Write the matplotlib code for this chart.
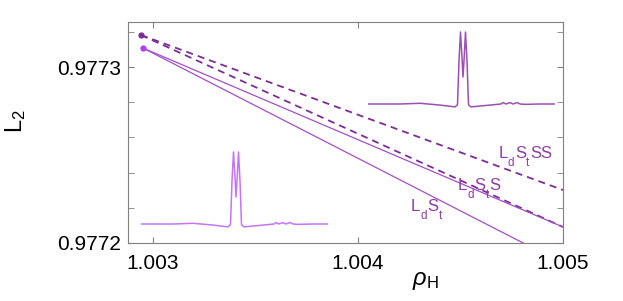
import matplotlib
matplotlib.use("Agg")
import matplotlib.pyplot as plt
from matplotlib.ticker import MultipleLocator, FormatStrFormatter
from matplotlib.transforms import offset_copy

plt.rcParams['font.family'] = ['Liberation Sans', 'DejaVu Sans']
plt.rcParams['mathtext.fontset'] = 'custom'
plt.rcParams['mathtext.rm'] = 'Liberation Sans'
plt.rcParams['mathtext.it'] = 'Liberation Sans:italic'

# lines: end points (rho_H, L2)
rho_dash = [1.002941, 1.005]
L2_SS = [0.9773182, 0.9772301]
L2_S = [0.9773182, 0.9772091]
rho_solid = [1.002951, 1.005]
L2_S_solid = [0.9773108, 0.9772091]
L2_t = [0.9773108, 0.9771884]

# start markers
dot_rho = [1.002941, 1.002951]
dot_L2 = [0.9773182, 0.9773108]

# curve labels as (text, subscript?) pieces
labels = [[('L', 0), ('d', 1), ('S', 0), ('t', 1), ('SS', 0)],
          [('L', 0), ('d', 1), ('S', 0), ('t', 1), ('S', 0)],
          [('L', 0), ('d', 1), ('S', 0), ('t', 1)]]
label_rho = [1.004684, 1.004488, 1.004259]
label_L2 = [0.9772483, 0.9772301, 0.9772182]

# inset spectrum (normalised)
spec_u = [0, 32, 52, 72, 87, 89.5, 91, 92.5, 94.2, 95, 96, 97.5, 99, 100.5, 103,
          122, 133, 135, 138, 142, 145, 149, 152, 157, 172, 187]
spec_v = [0, 0, 0.01, -0.015, -0.04, -0.01, 0.6, 1.0, 0.6, 0.375, 0.6, 1.0, 0.6, -0.01,
          -0.04, -0.015, 0, 0.02, 0, 0.02, 0, 0.02, 0, -0.005, 0, 0]

dark = '#7b2d96'
light = '#a24fc4'
gray = '#808080'

fig = plt.figure(figsize=(6.23, 3.01), dpi=100)
W, H = 623, 301
ax = fig.add_axes([128 / W, 1 - 243 / H, 435 / W, 221 / H])

ax.plot(rho_dash, L2_SS, color=dark, lw=1.3, dashes=(3.9, 2.8))
ax.plot(rho_dash, L2_S, color=dark, lw=1.3, dashes=(3.9, 2.8))
ax.plot(rho_solid, L2_S_solid, color=light, lw=0.9)
ax.plot(rho_solid, L2_t, color=light, lw=0.9)
ax.plot(dot_rho[0], dot_L2[0], 'o', color=dark, ms=4.5, mec='none')
ax.plot(dot_rho[1], dot_L2[1], 'o', color='#b040f0', ms=4.5, mec='none')

ax.set_xlim(1.002878, 1.005)
ax.set_ylim(0.9772, 0.9773256)
ax.xaxis.set_major_locator(MultipleLocator(0.001))
ax.xaxis.set_major_formatter(FormatStrFormatter('%.3f'))
ax.yaxis.set_major_locator(MultipleLocator(0.0001))
ax.yaxis.set_minor_locator(MultipleLocator(0.00002))
ax.yaxis.set_major_formatter(FormatStrFormatter('%.4f'))
ax.tick_params(which='both', direction='in', top=True, right=True, length=4,
               color=gray, labelsize=15)
ax.tick_params(axis='x', pad=8)
ax.tick_params(axis='y', pad=5)
for s in ax.spines.values():
    s.set_color(gray)
ax.set_xlabel(r'$\rho_\mathregular{H}$', fontsize=17)
ax.xaxis.set_label_coords(0.683, -0.12)
ax.set_ylabel(r'L$_\mathregular{2}$', fontsize=17)
ax.yaxis.set_label_coords(-0.23, 0.55)

# curve labels, subscripts dropped well below baseline
r = fig.canvas.get_renderer()
for pieces, xr, yl in zip(labels, label_rho, label_L2):
    dx = 0.0
    for s, sub in pieces:
        tr = offset_copy(ax.transData, fig=fig, x=dx, y=-5.5 if sub else 0, units='points')
        t = ax.text(xr, yl, s, color='#8e3ca6', fontsize=8.5 if sub else 12,
                    ha='left', va='baseline', transform=tr)
        dx += t.get_window_extent(r).width * 72 / fig.dpi + 0.3

# insets
for x0, ybase, col in [(368, 104, '#9a4fb4'), (141, 224, '#c474f8')]:
    ins = fig.add_axes([x0 / W, 1 - (ybase + 4) / H, 187 / W, 78 / H])
    ins.plot(spec_u, spec_v, color=col, lw=1.1)
    ins.set_xlim(0, 187)
    ins.set_ylim(-4 / 72, 74 / 72)
    ins.axis('off')

fig.savefig('out.png', dpi=100)
